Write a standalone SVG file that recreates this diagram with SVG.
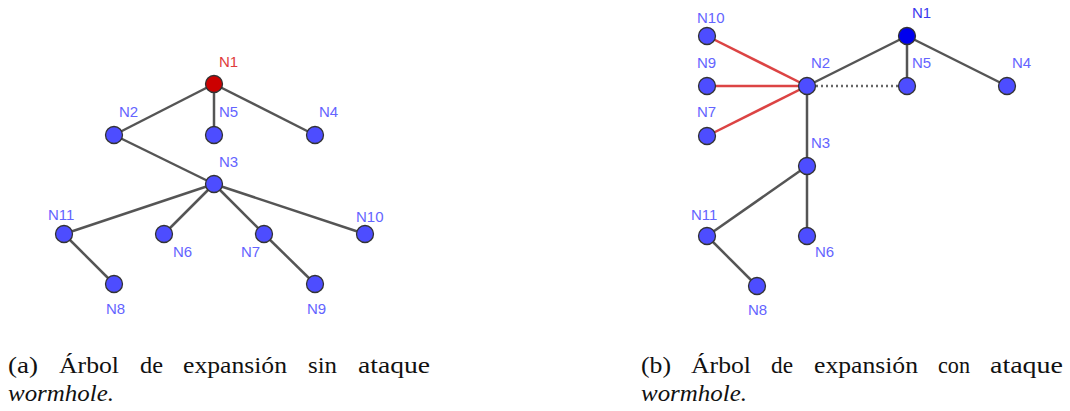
<svg xmlns="http://www.w3.org/2000/svg" width="1070" height="411" viewBox="0 0 1070 411">
<style>
.e{stroke:#555;stroke-width:2.5;fill:none}
.r{stroke:#dc4444;stroke-width:2.5;fill:none}
.d{stroke:#666;stroke-width:2.5;stroke-dasharray:2 3;fill:none}
.n{fill:#4d4dff;stroke:#333;stroke-width:1.3}
.l{font-family:"Liberation Sans",Arial,sans-serif;font-size:15px;fill:#6464ff}
.cap text{font-family:"Liberation Serif","Times New Roman",serif;font-size:24px;fill:#111}
.cap text.it{font-style:italic}
</style>
<rect width="1070" height="411" fill="#fff"/>
<g id="connectors-a">
<line class="e" x1="214" y1="84" x2="114" y2="135"/>
<line class="e" x1="214" y1="84" x2="214" y2="135"/>
<line class="e" x1="214" y1="84" x2="315" y2="135"/>
<line class="e" x1="114" y1="135" x2="214" y2="184"/>
<line class="e" x1="214" y1="184" x2="64" y2="234"/>
<line class="e" x1="214" y1="184" x2="164" y2="234"/>
<line class="e" x1="214" y1="184" x2="264" y2="234"/>
<line class="e" x1="214" y1="184" x2="365" y2="234"/>
<line class="e" x1="64" y1="234" x2="114" y2="284"/>
<line class="e" x1="264" y1="234" x2="315" y2="284"/>
</g>
<g id="a-N1"><circle cx="214" cy="84" r="8.5" fill="#cc0000" stroke="#333" stroke-width="1.3"/><text class="l" x="219" y="67" style="fill:#e03c3c">N1</text></g>
<g id="a-N2"><circle class="n" cx="114" cy="135" r="8.5"/><text class="l" x="119" y="117">N2</text></g>
<g id="a-N5"><circle class="n" cx="214" cy="135" r="8.5"/><text class="l" x="219" y="117">N5</text></g>
<g id="a-N4"><circle class="n" cx="315" cy="135" r="8.5"/><text class="l" x="319" y="117">N4</text></g>
<g id="a-N3"><circle class="n" cx="214" cy="184" r="8.5"/><text class="l" x="219" y="167">N3</text></g>
<g id="a-N11"><circle class="n" cx="64" cy="234" r="8.5"/><text class="l" x="48" y="220">N11</text></g>
<g id="a-N6"><circle class="n" cx="164" cy="234" r="8.5"/><text class="l" x="173" y="257">N6</text></g>
<g id="a-N7"><circle class="n" cx="264" cy="234" r="8.5"/><text class="l" x="241" y="257">N7</text></g>
<g id="a-N10"><circle class="n" cx="365" cy="234" r="8.5"/><text class="l" x="356" y="222">N10</text></g>
<g id="a-N8"><circle class="n" cx="114" cy="284" r="8.5"/><text class="l" x="106" y="314">N8</text></g>
<g id="a-N9"><circle class="n" cx="315" cy="284" r="8.5"/><text class="l" x="307" y="314">N9</text></g>

<g id="connectors-b">
<line class="r" x1="707" y1="36" x2="807" y2="86"/>
<line class="r" x1="707" y1="86" x2="807" y2="86"/>
<line class="r" x1="707" y1="136" x2="807" y2="86"/>
<line class="d" x1="816" y1="86" x2="898" y2="86"/>
<line class="e" x1="807" y1="86" x2="907" y2="36"/>
<line class="e" x1="907" y1="36" x2="907" y2="86"/>
<line class="e" x1="907" y1="36" x2="1007" y2="86"/>
<line class="e" x1="807" y1="86" x2="807" y2="166"/>
<line class="e" x1="807" y1="166" x2="707" y2="236"/>
<line class="e" x1="807" y1="166" x2="807" y2="236"/>
<line class="e" x1="707" y1="236" x2="757" y2="286"/>
</g>
<g id="b-N1"><circle cx="907" cy="36" r="8.5" fill="#0000ee" stroke="#333" stroke-width="1.3"/><text class="l" x="912" y="18" style="fill:#3a3aee">N1</text></g>
<g id="b-N10"><circle class="n" cx="707" cy="36" r="8.5"/><text class="l" x="697" y="23">N10</text></g>
<g id="b-N9"><circle class="n" cx="707" cy="86" r="8.5"/><text class="l" x="697" y="68">N9</text></g>
<g id="b-N7"><circle class="n" cx="707" cy="136" r="8.5"/><text class="l" x="697" y="117">N7</text></g>
<g id="b-N2"><circle class="n" cx="807" cy="86" r="8.5"/><text class="l" x="811" y="68">N2</text></g>
<g id="b-N5"><circle class="n" cx="907" cy="86" r="8.5"/><text class="l" x="912" y="68">N5</text></g>
<g id="b-N4"><circle class="n" cx="1007" cy="86" r="8.5"/><text class="l" x="1012" y="68">N4</text></g>
<g id="b-N3"><circle class="n" cx="807" cy="166" r="8.5"/><text class="l" x="811" y="148">N3</text></g>
<g id="b-N11"><circle class="n" cx="707" cy="236" r="8.5"/><text class="l" x="691" y="220">N11</text></g>
<g id="b-N6"><circle class="n" cx="807" cy="236" r="8.5"/><text class="l" x="815" y="257">N6</text></g>
<g id="b-N8"><circle class="n" cx="757" cy="286" r="8.5"/><text class="l" x="748" y="315">N8</text></g>

<g id="caption-a" class="cap">
<text x="8" y="373" textLength="30" lengthAdjust="spacingAndGlyphs">(a)</text>
<text x="59" y="373" textLength="60" lengthAdjust="spacingAndGlyphs">Árbol</text>
<text x="140" y="373" textLength="23" lengthAdjust="spacingAndGlyphs">de</text>
<text x="183" y="373" textLength="104" lengthAdjust="spacingAndGlyphs">expansión</text>
<text x="308" y="373" textLength="29" lengthAdjust="spacingAndGlyphs">sin</text>
<text x="358" y="373" textLength="72" lengthAdjust="spacingAndGlyphs">ataque</text>
<text class="it" x="8" y="401" textLength="106" lengthAdjust="spacingAndGlyphs">wormhole.</text>
</g>
<g id="caption-b" class="cap">
<text x="641" y="373" textLength="30" lengthAdjust="spacingAndGlyphs">(b)</text>
<text x="691" y="373" textLength="60" lengthAdjust="spacingAndGlyphs">Árbol</text>
<text x="771" y="373" textLength="22" lengthAdjust="spacingAndGlyphs">de</text>
<text x="814" y="373" textLength="104" lengthAdjust="spacingAndGlyphs">expansión</text>
<text x="938" y="373" textLength="32" lengthAdjust="spacingAndGlyphs">con</text>
<text x="990" y="373" textLength="73" lengthAdjust="spacingAndGlyphs">ataque</text>
<text class="it" x="641" y="401" textLength="106" lengthAdjust="spacingAndGlyphs">wormhole.</text>
</g>
</svg>
